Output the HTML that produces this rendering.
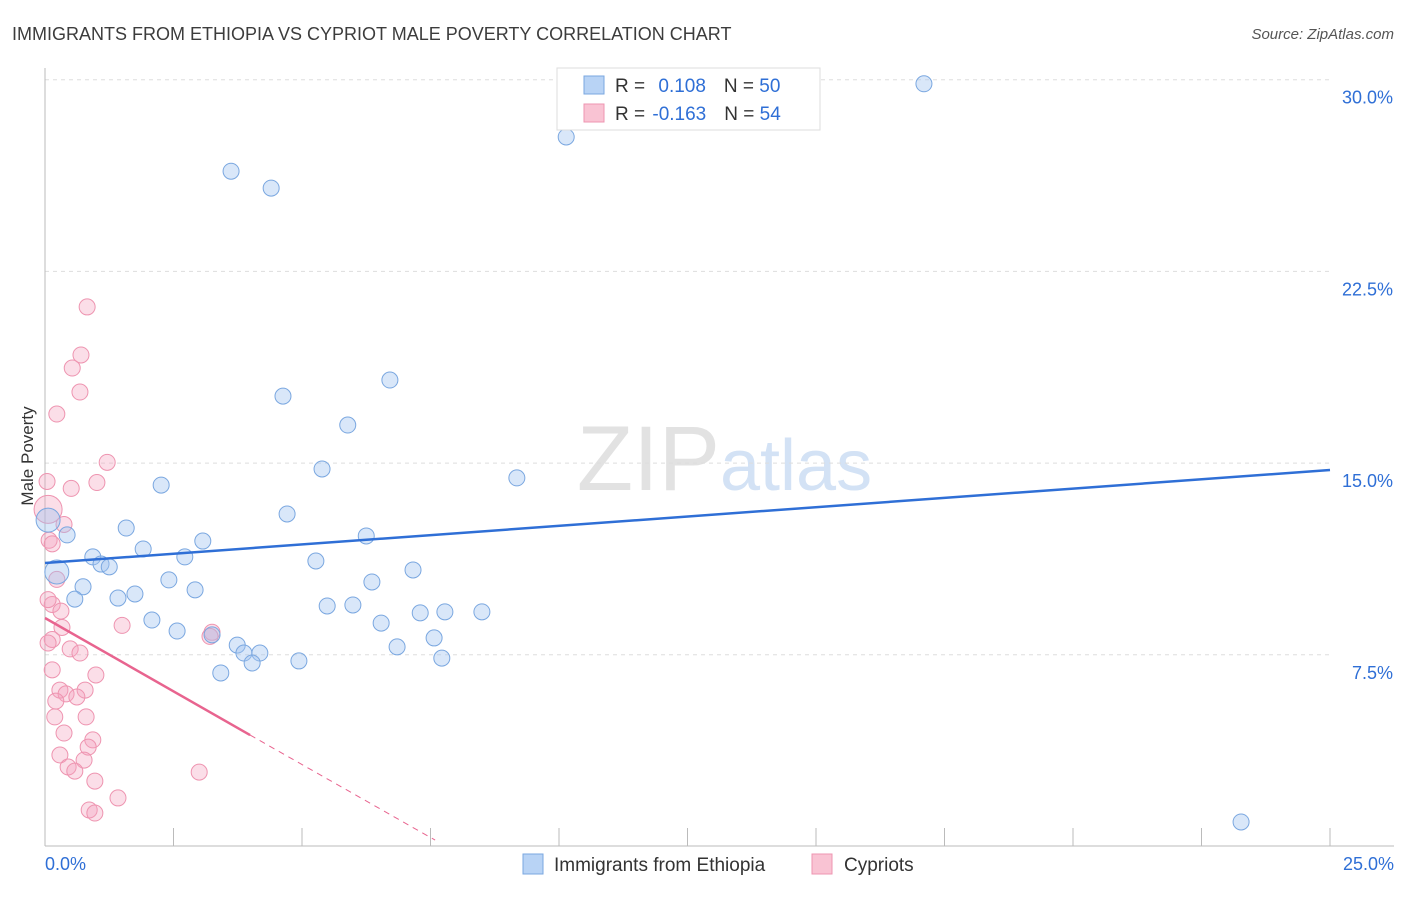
<!DOCTYPE html>
<html><head><meta charset="utf-8"><style>
body{margin:0;background:#fff;font-family:"Liberation Sans",sans-serif;}
svg text{font-family:"Liberation Sans",sans-serif;}
</style></head><body>
<svg id="chart" width="1406" height="892" xmlns="http://www.w3.org/2000/svg">
<text x="12" y="40" font-size="18" fill="#3c3c3c">IMMIGRANTS FROM ETHIOPIA VS CYPRIOT MALE POVERTY CORRELATION CHART</text>
<text x="1394" y="39" font-size="15" fill="#555" text-anchor="end" font-style="italic">Source: ZipAtlas.com</text>
<text x="720" y="490" font-size="92" fill="#e2e2e2" text-anchor="end" font-family="Liberation Serif">ZIP</text>
<text x="720" y="490" font-size="72" fill="#d3e2f5">atlas</text>
<g id="grid"></g>
<g id="axes"></g>
<g id="pink"></g>
<g id="blue"></g>
<g id="trends"></g>
<text transform="translate(33,456) rotate(-90)" font-size="17" fill="#333" text-anchor="middle">Male Poverty</text>
<g>
<rect x="557" y="68" width="263" height="62" fill="#fff" stroke="#ddd"/>
<rect x="584" y="76" width="20" height="18" fill="#b8d3f5" stroke="#7aa7e0"/>
<rect x="584" y="104" width="20" height="18" fill="#f9c3d3" stroke="#ee94b0"/>
<text x="615" y="92" font-size="19" fill="#333">R = <tspan fill="#2f6fd6" dx="8">0.108</tspan><tspan dx="18" fill="#333">N = </tspan><tspan fill="#2f6fd6">50</tspan></text>
<text x="615" y="120" font-size="19" fill="#333">R = <tspan fill="#2f6fd6" dx="2">-0.163</tspan><tspan dx="18" fill="#333">N = </tspan><tspan fill="#2f6fd6">54</tspan></text>
</g>
<g>
<rect x="523" y="854" width="20" height="20" fill="#b8d3f5" stroke="#7aa7e0"/>
<text x="554" y="871" font-size="19" fill="#333">Immigrants from Ethiopia</text>
<rect x="812" y="854" width="20" height="20" fill="#f9c3d3" stroke="#ee94b0"/>
<text x="844" y="871" font-size="19" fill="#333">Cypriots</text>
</g>
</svg>
<script>
const xTicks=[0,2.5,5,7.5,10,12.5,15,17.5,20,22.5,25];
const yTicks=[7.5,15,22.5,30];
const yTickLabels=["7.5%","15.0%","22.5%","30.0%"];
const xTickLabels=["0.0%","25.0%"];
const blueX=[17.10,10.14,3.62,4.40,6.71,4.63,5.89,5.39,9.18,2.26,4.71,1.58,0.43,6.25,3.07,1.91,0.93,2.72,5.27,1.09,1.25,0.23,7.16,2.41,6.36,0.74,2.92,1.75,1.42,0.58,5.49,5.99,7.30,7.78,8.50,2.08,6.54,2.57,3.25,7.57,3.74,3.87,4.18,6.85,4.03,4.94,7.72,3.42,23.27,0.06];
const blueY=[29.84,27.76,26.42,25.76,18.25,17.62,16.49,14.77,14.42,14.14,13.01,12.46,12.19,12.15,11.95,11.64,11.33,11.33,11.17,11.05,10.94,10.74,10.82,10.43,10.35,10.16,10.04,9.88,9.72,9.68,9.41,9.45,9.14,9.18,9.18,8.86,8.74,8.43,8.28,8.16,7.88,7.57,7.57,7.81,7.18,7.26,7.37,6.79,0.96,12.77];
const pinkX=[0.82,0.70,0.53,0.68,0.23,1.21,0.04,1.01,0.51,0.06,0.37,0.08,0.23,0.14,0.31,1.50,0.33,3.25,3.21,0.14,0.06,0.49,0.68,0.99,0.14,0.78,0.29,0.41,0.62,0.21,0.19,0.80,0.37,0.93,0.84,0.29,0.76,0.45,0.58,3.00,0.97,1.42,0.86,0.97,0.06,0.14];
const pinkY=[21.11,19.23,18.72,17.78,16.92,15.03,14.28,14.24,14.01,13.19,12.60,11.98,10.45,9.47,9.21,8.65,8.57,8.38,8.22,8.10,7.96,7.73,7.57,6.71,6.91,6.12,6.12,5.97,5.85,5.69,5.07,5.07,4.44,4.17,3.89,3.58,3.38,3.11,2.95,2.91,2.56,1.90,1.43,1.31,9.66,11.84];
const blueTrend=[11.09,14.73];
const pinkTrend=[8.94,4.36,0.25];
const pinkTrendX=[0,3.99,7.59];
const X=v=>45+v*51.4, Y=v=>846.5-v*25.56;
const NS="http://www.w3.org/2000/svg";
function mk(p,t,a){const e=document.createElementNS(NS,t);for(const k in a)e.setAttribute(k,a[k]);document.getElementById(p).appendChild(e);return e;}
yTicks.forEach((t,i)=>{
 const l=mk('grid','line',{x1:45,x2:1330,y1:Y(t),y2:Y(t),stroke:'#ddd','stroke-dasharray':'4,4'});
 
 
 const tx=mk('axes','text',{x:1393,y:Y(t)+24,'font-size':18,fill:'#2f6fd6','text-anchor':'end'});tx.textContent=yTickLabels[i];
 
 
});
const yl=mk('axes','line',{x1:45,x2:45,y1:68,y2:846,stroke:'#bbb'});


const xl=mk('axes','line',{x1:45,x2:1394,y1:846,y2:846,stroke:'#bbb'});


xTicks.forEach(t=>{const l=mk('axes','line',{x1:X(t),x2:X(t),y1:828,y2:846,stroke:'#bbb'});
 
 });
[[0,'start',45],[25,'end',1394]].forEach((d,i)=>{const t=mk('axes','text',{x:d[2],y:870,'font-size':18,fill:'#2f6fd6','text-anchor':d[1]});t.textContent=xTickLabels[i];
 
 });
pinkX.forEach((v,i)=>{const r=(i===9)?14:8;const c=mk('pink','circle',{cx:X(v),cy:Y(pinkY[i]),r:r,fill:'rgba(244,160,188,0.35)',stroke:'#ee94b0','stroke-width':1});
 
 });
blueX.forEach((v,i)=>{const r=(i===49||i===21)?12:8;const c=mk('blue','circle',{cx:X(v),cy:Y(blueY[i]),r:r,fill:'rgba(160,195,240,0.4)',stroke:'#7aa7e0','stroke-width':1});
 
 });
const bt=mk('trends','line',{x1:X(0),y1:Y(blueTrend[0]),x2:X(25),y2:Y(blueTrend[1]),stroke:'#2f6fd6','stroke-width':2.5});


const pt=mk('trends','line',{x1:X(pinkTrendX[0]),y1:Y(pinkTrend[0]),x2:X(pinkTrendX[1]),y2:Y(pinkTrend[1]),stroke:'#e8648f','stroke-width':2.5});


const pd=mk('trends','line',{x1:X(pinkTrendX[1]),y1:Y(pinkTrend[1]),x2:X(pinkTrendX[2]),y2:Y(pinkTrend[2]),stroke:'#e8648f','stroke-width':1,'stroke-dasharray':'6,5'});


</script>
</body></html>
